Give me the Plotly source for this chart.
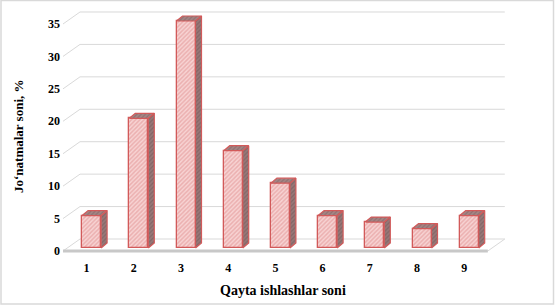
import plotly.graph_objects as go

# ---- data ----
categories = [1, 2, 3, 4, 5, 6, 7, 8, 9]
values = [5, 20, 35, 15, 10, 5, 4, 3, 5]
y_ticks = [0, 5, 10, 15, 20, 25, 30, 35]
x_title = "Qayta ishlashlar soni"
y_title = "Jo‘natmalar soni, %"

# ---- layout geometry (pixels) ----
W, H = 555, 306
ML, MR, MT, MB = 63, 43, 10, 51
PX_X = 47.2      # px per category
PX_Y = 6.486     # px per unit
XR = [0.5, 0.5 + (W - ML - MR) / PX_X]
YR = [-(4 / PX_Y), (251 - MT) / PX_Y]

# depth offsets converted to data units
WX, WY = 17 / PX_X, 12 / PX_Y          # back wall
FX, FY = 5 / PX_X, 3 / PX_Y            # bar front face offset
DX, DY = 6 / PX_X, 5 / PX_Y            # bar depth
BW = 19 / PX_X                         # bar width

FONT = "Liberation Serif, Times New Roman, serif"
RED = "#d25a5a"
GRID = "#d9d9d9"

fig = go.Figure()

# side and top faces of bars
sx, sy, tx, ty = [], [], [], []
for c, v in zip(categories, values):
    xl = c + FX - BW / 2
    xr = c + FX + BW / 2
    b = FY
    sx += [xr, xr + DX, xr + DX, xr, xr, None]
    sy += [b, b + DY, b + v + DY, b + v, b, None]
    tx += [xl, xl + DX, xr + DX, xr, xl, None]
    ty += [b + v, b + v + DY, b + v + DY, b + v, b + v, None]

fig.add_trace(go.Scatter(
    x=sx, y=sy, mode="lines", fill="toself",
    fillcolor="#8d6f6f",
    fillpattern=dict(shape="/", fgcolor="#705454", bgcolor="#977878", size=3, solidity=0.4),
    line=dict(color=RED, width=1.2), hoverinfo="skip", showlegend=False))
fig.add_trace(go.Scatter(
    x=tx, y=ty, mode="lines", fill="toself",
    fillcolor="#9a7a7a",
    fillpattern=dict(shape="/", fgcolor="#7a5c5c", bgcolor="#a58585", size=3, solidity=0.4),
    line=dict(color=RED, width=1.2), hoverinfo="skip", showlegend=False))

# front faces
fig.add_trace(go.Bar(
    x=[c + FX for c in categories], y=values, base=FY, width=BW,
    marker=dict(color="#f0b8b8",
                pattern=dict(shape="/", fgcolor="#e08c8c", bgcolor="#f7d3d3", size=3, solidity=0.5),
                line=dict(color=RED, width=1.3)),
    hoverinfo="skip", showlegend=False))

shapes = []
# floor
x0, x1 = 0.5, 9.5
shapes.append(dict(type="path", xref="x", yref="y", layer="below",
                   path=f"M {x0},0 L {x1},0 L {x1+WX},{WY} L {x0+WX},{WY} Z",
                   fillcolor="white", line=dict(color=GRID, width=1)))
shapes.append(dict(type="line", xref="x", yref="y", layer="below",
                   x0=x0, x1=x1, y0=0, y1=0, line=dict(color="#c8c8c8", width=3)))
# gridlines on back wall + side wall
for v in y_ticks[1:]:
    shapes.append(dict(type="path", xref="x", yref="y", layer="below",
                       path=f"M {x0},{v} L {x0+WX},{v+WY} L {x1+WX},{v+WY}",
                       line=dict(color=GRID, width=1)))
# chart border
pw, ph = W - ML - MR, H - MT - MB
shapes.append(dict(type="rect", xref="paper", yref="paper",
                   x0=-(ML - 1) / pw, x1=1 + (MR - 1.5) / pw,
                   y0=-(MB - 2) / ph, y1=1 + (MT - 0.5) / ph,
                   line=dict(color=GRID, width=1.5), fillcolor="rgba(0,0,0,0)"))

fig.update_layout(
    width=W, height=H,
    margin=dict(l=ML, r=MR, t=MT, b=MB),
    paper_bgcolor="white", plot_bgcolor="white",
    bargap=0, shapes=shapes,
    xaxis=dict(range=XR, tickvals=categories, ticktext=[str(c) for c in categories],
               showgrid=False, zeroline=False, showline=False, ticks="",
               ticklabelstandoff=4, automargin=False,
               tickfont=dict(family=FONT, size=12, color="#000000", weight="bold")),
    yaxis=dict(range=YR, tickvals=y_ticks, showgrid=False, zeroline=False,
               showline=False, ticks="", ticklabelstandoff=2, automargin=False,
               tickfont=dict(family=FONT, size=12, color="#000000", weight="bold")),
    annotations=[
        dict(text=f"<b>{y_title}</b>", xref="paper", yref="paper",
             x=(18 - ML) / pw, y=(H - MB - 136) / ph, textangle=-90, showarrow=False,
             xanchor="center", yanchor="middle",
             font=dict(family=FONT, size=13, color="#000000")),
        dict(text=f"<b>{x_title}</b>", xref="paper", yref="paper",
             x=(283 - ML) / pw, y=(H - MB - 290) / ph, showarrow=False,
             xanchor="center", yanchor="middle",
             font=dict(family=FONT, size=14, color="#000000")),
    ],
)

fig.write_html("out.html", config={"displayModeBar": False},
               post_script="document.body.style.margin='0';")
